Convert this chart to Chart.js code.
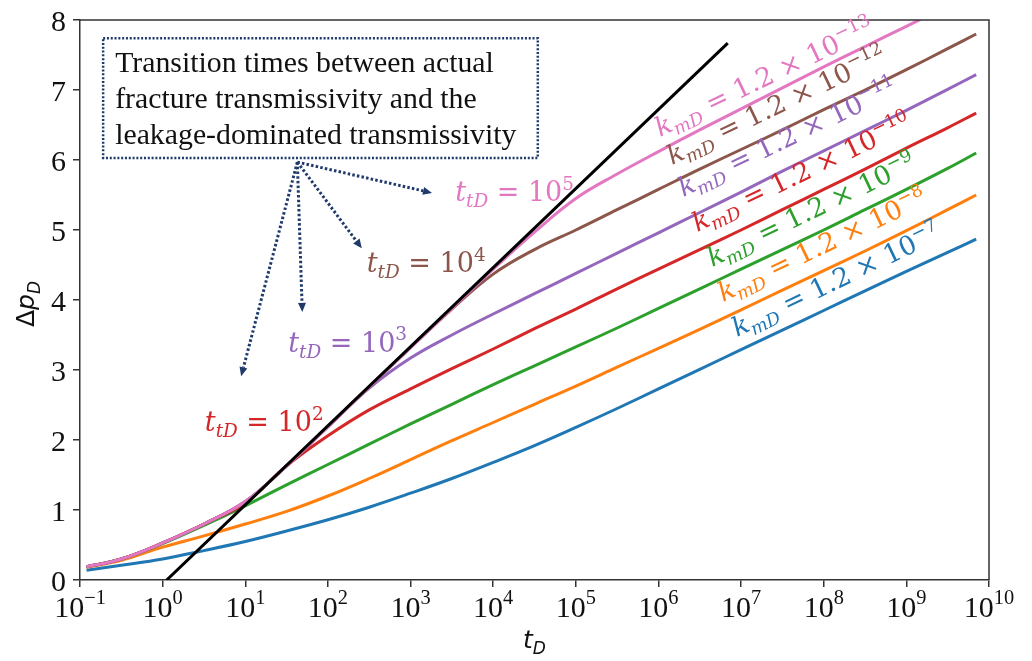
<!DOCTYPE html>
<html>
<head>
<meta charset="utf-8">
<script src="https://cdn.jsdelivr.net/npm/chart.js@4.4.1/dist/chart.umd.min.js"></script>
<style>
  html, body { margin: 0; padding: 0; background: #ffffff; }
  #mycanvas { display: block; }
</style>
</head>
<body>
<canvas id="mycanvas" width="1032" height="661"></canvas>
<script>
// dimensionless time grid (half-decade steps)
const td_list = [0.12, 0.316, 1, 3.16, 10, 31.6, 100, 316, 1e3, 3.16e3, 1e4, 3.16e4,
                 1e5, 3.16e5, 1e6, 3.16e6, 1e7, 3.16e7, 1e8, 3.16e8, 1e9, 3.16e9, 7e9];

// dimensionless pressure drop for each matrix permeability kmD
const dp_k7  = [0.14, 0.21, 0.30, 0.42, 0.55, 0.70, 0.86, 1.04, 1.24, 1.45, 1.68, 1.92,
                2.18, 2.45, 2.73, 3.01, 3.29, 3.57, 3.85, 4.13, 4.41, 4.68, 4.87];
const dp_k8  = [0.18, 0.28, 0.47, 0.63, 0.80, 0.98, 1.20, 1.45, 1.72, 1.99, 2.25, 2.51,
                2.77, 3.04, 3.31, 3.58, 3.86, 4.14, 4.42, 4.70, 4.99, 5.29, 5.50];
const dp_k9  = [0.19, 0.30, 0.52, 0.78, 1.06, 1.36, 1.65, 1.94, 2.23, 2.51, 2.79, 3.06,
                3.33, 3.60, 3.88, 4.16, 4.44, 4.72, 5.00, 5.29, 5.58, 5.88, 6.10];
const dp_k10 = [0.19, 0.30, 0.53, 0.80, 1.10, 1.63, 2.06, 2.43, 2.73, 3.02, 3.30, 3.59,
                3.87, 4.16, 4.44, 4.72, 5.00, 5.29, 5.58, 5.87, 6.17, 6.46, 6.67];
const dp_k11 = [0.19, 0.30, 0.53, 0.80, 1.12, 1.63, 2.19, 2.74, 3.17, 3.50, 3.80, 4.09,
                4.38, 4.67, 4.96, 5.25, 5.54, 5.84, 6.13, 6.42, 6.71, 7.01, 7.22];
const dp_k12 = [0.19, 0.30, 0.53, 0.80, 1.12, 1.63, 2.19, 2.76, 3.32, 3.87, 4.37, 4.72,
                5.00, 5.29, 5.58, 5.87, 6.15, 6.43, 6.72, 7.00, 7.29, 7.59, 7.80];
const dp_k13 = [0.19, 0.30, 0.53, 0.80, 1.12, 1.63, 2.19, 2.76, 3.32, 3.88, 4.44, 4.97,
                5.45, 5.80, 6.12, 6.43, 6.73, 7.03, 7.33, 7.62, 7.91, 8.20, 8.40];

// semilog straight line (fracture transmissivity only)
const line_td = [1.12, 6.9e6];
const line_dp = [0, 7.67];

const k_exps = ['−13', '−12', '−11', '−10', '−9', '−8', '−7'];
const tt_exps = ['5', '4', '3', '2'];

const x_ticks = [0.1, 1, 10, 1e2, 1e3, 1e4, 1e5, 1e6, 1e7, 1e8, 1e9, 1e10];
const x_tick_exps = ['−1', '0', '1', '2', '3', '4', '5', '6', '7', '8', '9', '10'];
const y_ticks = [0, 1, 2, 3, 4, 5, 6, 7, 8];

const colors = ['#e377c2', '#8c564b', '#9467bd', '#d62728', '#2ca02c', '#ff7f0e', '#1f77b4'];
const curves = [dp_k13, dp_k12, dp_k11, dp_k10, dp_k9, dp_k8, dp_k7];

const AXIS = '#333333';
const NAVY = '#1f3a6b';
const SERIF = '"Liberation Serif", "Times New Roman", serif';
const MATH = '"DejaVu Serif", serif';
const SANS = '"DejaVu Sans", sans-serif';

// ---- small rich-text helpers (italic, sub/superscripts) ----
function fontFor(p, size, fam) {
    const fs = p.pos ? size * 0.68 : size;
    return (p.it ? 'italic ' : '') + fs.toFixed(1) + 'px ' + fam;
}
function richWidth(ctx, parts, size, fam) {
    let w = 0;
    for (const p of parts) {
        ctx.font = fontFor(p, size, fam);
        w += ctx.measureText(p.s).width;
    }
    return w;
}
function richText(ctx, parts, x, y, size, fam, align) {
    let cx = x;
    const w = richWidth(ctx, parts, size, fam);
    if (align === 'center') cx -= w / 2;
    else if (align === 'right') cx -= w;
    ctx.textAlign = 'left';
    ctx.textBaseline = 'alphabetic';
    for (const p of parts) {
        ctx.font = fontFor(p, size, fam);
        const dy = p.pos === 'sub' ? size * 0.22 : (p.pos === 'sup' ? -size * 0.42 : 0);
        ctx.fillText(p.s, cx, y + dy);
        cx += ctx.measureText(p.s).width;
    }
}

function dottedArrow(ctx, x0, y0, x1, y1) {
    const ang = Math.atan2(y1 - y0, x1 - x0);
    const head = 9;
    const bx = x1 - Math.cos(ang) * head, by = y1 - Math.sin(ang) * head;
    ctx.setLineDash([2.5, 2.2]);
    ctx.lineWidth = 3;
    ctx.beginPath();
    ctx.moveTo(x0, y0);
    ctx.lineTo(bx, by);
    ctx.stroke();
    ctx.setLineDash([]);
    ctx.beginPath();
    ctx.moveTo(x1, y1);
    ctx.lineTo(bx + Math.sin(ang) * 4, by - Math.cos(ang) * 4);
    ctx.lineTo(bx - Math.sin(ang) * 4, by + Math.cos(ang) * 4);
    ctx.closePath();
    ctx.fill();
}

// annotation anchors, given as (log10 tD, dp)
const box_corner = [-0.72, 7.74, 4.54, 6.03];
const arrow_from = [1.63, 5.97];
const arrow_to = [[3.26, 5.53], [2.41, 4.74], [1.69, 3.83], [0.95, 2.91]];
const tt_at = [[3.54, 5.41], [2.47, 4.40], [1.52, 3.26], [0.51, 2.13]];
const k_at = [[6.02, 6.33], [6.165, 5.93], [6.30, 5.47], [6.47, 4.97], [6.65, 4.47], [6.78, 3.97], [6.95, 3.47]];
const ttColors = ['#e377c2', '#8c564b', '#9467bd', '#d62728'];

const decorations = {
    id: 'decorations',
    afterDraw(chart) {
        const ctx = chart.ctx;
        const xs = chart.scales.x, ys = chart.scales.y;
        const area = chart.chartArea;
        const px = (e) => xs.getPixelForValue(Math.pow(10, e));
        const py = (v) => ys.getPixelForValue(v);
        ctx.save();

        // frame on top and right
        ctx.strokeStyle = AXIS;
        ctx.lineWidth = 1.5;
        ctx.beginPath();
        ctx.moveTo(area.left, area.top);
        ctx.lineTo(area.right, area.top);
        ctx.lineTo(area.right, area.bottom);
        ctx.stroke();

        // tick labels
        ctx.fillStyle = '#111111';
        x_ticks.forEach((v, i) => {
            richText(ctx, [{ s: '10' }, { s: x_tick_exps[i], pos: 'sup' }],
                xs.getPixelForValue(v), area.bottom + 37, 30, SERIF, 'center');
        });
        y_ticks.forEach((v) => {
            richText(ctx, [{ s: String(v) }], area.left - 14, ys.getPixelForValue(v) + 11, 30, SERIF, 'right');
        });

        // axis titles
        richText(ctx, [{ s: 't', it: true }, { s: 'D', it: true, pos: 'sub' }],
            (area.left + area.right) / 2, area.bottom + 68, 25, SANS, 'center');
        ctx.save();
        ctx.translate(34, (area.top + area.bottom) / 2 + 4);
        ctx.rotate(-Math.PI / 2);
        richText(ctx, [{ s: 'Δ' }, { s: 'p', it: true }, { s: 'D', it: true, pos: 'sub' }], 0, 0, 25, SANS, 'center');
        ctx.restore();

        // note box
        const bx0 = px(box_corner[0]), by0 = py(box_corner[1]);
        const bx1 = px(box_corner[2]), by1 = py(box_corner[3]);
        ctx.strokeStyle = NAVY;
        ctx.lineWidth = 2.5;
        ctx.setLineDash([2, 1.8]);
        ctx.strokeRect(bx0, by0, bx1 - bx0, by1 - by0);
        ctx.setLineDash([]);
        ctx.fillStyle = '#111111';
        ctx.font = '29.8px ' + SERIF;
        ctx.textAlign = 'left';
        ctx.textBaseline = 'alphabetic';
        ['Transition times between actual',
         'fracture transmissivity and the',
         'leakage-dominated transmissivity'].forEach((line, i) => {
            ctx.fillText(line, bx0 + 12, by0 + 34 + i * 36);
        });

        // dotted arrows to the transition times
        ctx.strokeStyle = NAVY;
        ctx.fillStyle = NAVY;
        arrow_to.forEach((a) => {
            dottedArrow(ctx, px(arrow_from[0]), py(arrow_from[1]), px(a[0]), py(a[1]));
        });

        // transition time labels
        tt_at.forEach((a, i) => {
            ctx.fillStyle = ttColors[i];
            richText(ctx, [{ s: 't', it: true }, { s: 'tD', it: true, pos: 'sub' },
                           { s: ' = 10' }, { s: tt_exps[i], pos: 'sup' }],
                px(a[0]), py(a[1]), 27, MATH, 'left');
        });

        // permeability labels along each curve
        k_at.forEach((a, i) => {
            ctx.save();
            ctx.translate(px(a[0]), py(a[1]));
            ctx.rotate(-25.5 * Math.PI / 180);
            ctx.fillStyle = colors[i];
            richText(ctx, [{ s: 'k', it: true }, { s: 'mD', it: true, pos: 'sub' },
                           { s: ' = 1.2 × 10' }, { s: k_exps[i], pos: 'sup' }],
                0, 0, 26.5, MATH, 'left');
            ctx.restore();
        });

        ctx.restore();
    }
};

const datasets = [{
    label: 'line',
    data: line_td.map((t, i) => ({ x: t, y: line_dp[i] })),
    borderColor: '#000000',
    borderWidth: 3,
    pointRadius: 0,
}];
curves.forEach((c, i) => {
    datasets.push({
        label: 'kmD = 1.2e' + k_exps[i],
        data: td_list.map((t, j) => ({ x: t, y: c[j] })),
        borderColor: colors[i],
        borderWidth: 3,
        pointRadius: 0,
        tension: 0.4,
    });
});

const mycanvas = document.getElementById('mycanvas').getContext('2d');
const chart = new Chart(mycanvas, {
    type: 'line',
    data: { datasets: datasets },
    options: {
        responsive: false,
        animation: false,
        devicePixelRatio: 1,
        layout: {
            padding: { left: 73, right: 43, top: 20, bottom: 74 }
        },
        plugins: {
            legend: { display: false },
            tooltip: { enabled: false },
        },
        scales: {
            x: {
                type: 'logarithmic',
                min: 0.1,
                max: 1e10,
                afterBuildTicks: (scale) => { scale.ticks = x_ticks.map(v => ({ value: v })); },
                ticks: { display: false },
                grid: { drawOnChartArea: false, drawTicks: true, tickLength: 7, color: AXIS, lineWidth: 1.5 },
                border: { color: AXIS, width: 1.5 },
            },
            y: {
                type: 'linear',
                min: 0,
                max: 8,
                afterBuildTicks: (scale) => { scale.ticks = y_ticks.map(v => ({ value: v })); },
                ticks: { display: false },
                grid: { drawOnChartArea: false, drawTicks: true, tickLength: 7, color: AXIS, lineWidth: 1.5 },
                border: { color: AXIS, width: 1.5 },
            }
        },
    },
    plugins: [decorations],
});
</script>
</body>
</html>
